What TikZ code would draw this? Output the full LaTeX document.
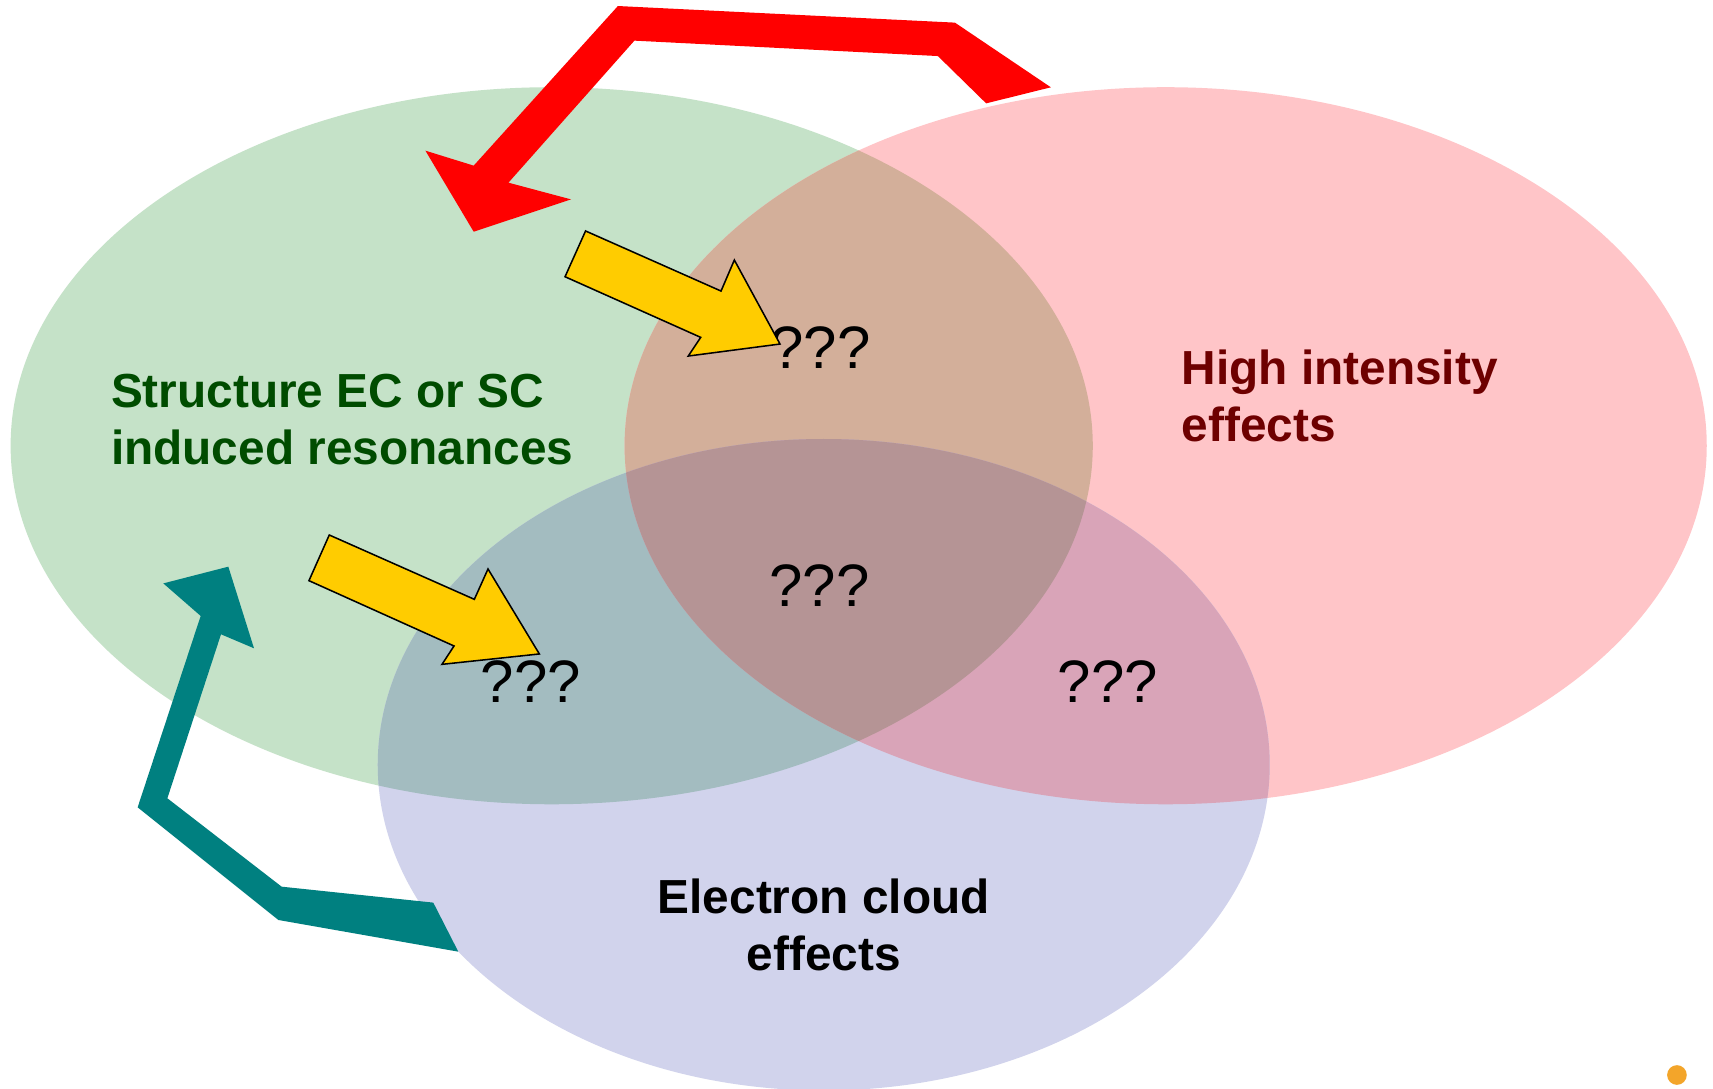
\documentclass[tikz,border=0pt]{standalone}
\usepackage{fontspec}
\setmainfont{Liberation Sans}
\definecolor{gcol}{HTML}{C5E2C8}
\definecolor{pcol}{HTML}{FFC5C8}
\definecolor{bcol}{HTML}{D1D3EC}
\definecolor{gpcol}{HTML}{D3AF9A}
\definecolor{gbcol}{HTML}{A3BCC0}
\definecolor{pbcol}{HTML}{D9A4B8}
\definecolor{gpbcol}{HTML}{B59495}
\definecolor{txtgreen}{HTML}{004C00}
\definecolor{txtred}{HTML}{6E0000}
\definecolor{arrred}{HTML}{FF0000}
\definecolor{arrteal}{HTML}{008080}
\definecolor{arryellow}{HTML}{FFCC00}
\definecolor{blob}{HTML}{F3A52A}
\tikzset{
  bigtext/.style={inner sep=0pt, font=\fontsize{12.44}{14.8}\selectfont\bfseries},
  qtext/.style={inner sep=0pt, anchor=base, font=\fontsize{15.6}{18}\selectfont},
  yarrow/.style={fill=arryellow, draw=black, line width=0.4pt, line join=miter},
}
\begin{document}
\begin{tikzpicture}[x=0.01cm, y=-0.01cm]
\useasboundingbox (0,0) rectangle (1568,996);
\fill[white] (0,0) rectangle (1568,996);
% ellipses
\coordinate (cg) at (505,408);
\coordinate (cp) at (1067,408);
\coordinate (cb) at (754,700);
\fill[gcol] (cg) ellipse [x radius=4.95cm, y radius=3.28cm];
\fill[pcol] (cp) ellipse [x radius=4.95cm, y radius=3.28cm];
\fill[bcol] (cb) ellipse [x radius=4.08cm, y radius=2.98cm];
\begin{scope}
  \clip (cg) ellipse [x radius=4.95cm, y radius=3.28cm];
  \fill[gpcol] (cp) ellipse [x radius=4.95cm, y radius=3.28cm];
  \fill[gbcol] (cb) ellipse [x radius=4.08cm, y radius=2.98cm];
\end{scope}
\begin{scope}
  \clip (cp) ellipse [x radius=4.95cm, y radius=3.28cm];
  \fill[pbcol] (cb) ellipse [x radius=4.08cm, y radius=2.98cm];
\end{scope}
\begin{scope}
  \clip (cg) ellipse [x radius=4.95cm, y radius=3.28cm];
  \clip (cp) ellipse [x radius=4.95cm, y radius=3.28cm];
  \fill[gpbcol] (cb) ellipse [x radius=4.08cm, y radius=2.98cm];
\end{scope}
% labels
\node[bigtext, text=txtgreen, align=left, anchor=west] (struct) at (101,384)
  {Structure EC or SC\\induced resonances};
\node[bigtext, text=txtred, align=left, anchor=west] (high) at (1081,362.5)
  {High intensity\\effects};
\node[bigtext, text=black, align=center, anchor=center] (ecloud) at (754,846.5)
  {Electron cloud\\effects};
\node[qtext] (q1) at (751,337) {???};
\node[qtext] (q2) at (750,555) {???};
\node[qtext] (q3) at (486,643) {???};
\node[qtext] (q4) at (1014,643) {???};
% red arrow
\fill[arrred] (565.6,5.5) -- (874.1,20.7) -- (961.9,79.9) -- (902.7,94.6)
  -- (858.5,51.3) -- (580.7,37.2) -- (465.4,167.2) -- (522.7,182.5)
  -- (433.6,212.1) -- (389.4,137.9) -- (433.6,151.6) -- cycle;
% teal arrow
\fill[arrteal] (209,518.7) -- (232.5,593.4) -- (202.3,580.6) -- (153.2,730.7)
  -- (257.8,811.6) -- (396.6,826.2) -- (419.5,871.1) -- (254.8,842.1)
  -- (126,739) -- (183.7,563.8) -- (149.5,534) -- cycle;
% yellow arrows
\draw[yarrow] (536,211.4) -- (660,266.4) -- (672.2,238) -- (714,314.9)
  -- (630,325.9) -- (641.4,308.8) -- (517.2,253.3) -- cycle;
\draw[yarrow] (301.4,489.7) -- (434.2,548.6) -- (446.7,520.8) -- (493.7,598.6)
  -- (404.6,608.1) -- (415.6,591.3) -- (282.8,531.5) -- cycle;
% small logo blob
\fill[blob] (1535,984) circle [radius=0.09cm];
\end{tikzpicture}
\end{document}
